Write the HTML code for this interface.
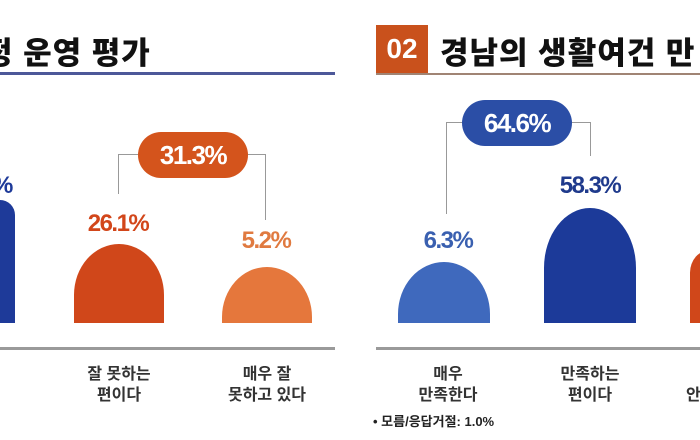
<!DOCTYPE html>
<html><head><meta charset="utf-8"><style>
body{margin:0;width:700px;height:440px;background:#fff;overflow:hidden;position:relative;font-family:"Liberation Sans","Noto Sans CJK KR",sans-serif}
.a{position:absolute}
.t{font-weight:900;font-size:31px;color:#111;letter-spacing:1px}
.bar{position:absolute;border-radius:46px 46px 0 0/52px 52px 0 0}
.pct{position:absolute;font-weight:bold;font-size:24px;text-align:center;letter-spacing:-1.5px}
.lbl{position:absolute;font-size:16px;color:#333;text-align:center;line-height:21px;width:120px;font-weight:bold}
.pill{position:absolute;border-radius:24px;color:#fff;font-weight:bold;font-size:26px;text-align:center;letter-spacing:-1.5px}
</style></head><body>
<div class="a t" style="left:-16px;top:28px">정 운영 평가</div>
<div class="a" style="left:0;top:72px;width:335px;height:3px;background:#4d5899"></div>

<div class="a" style="left:0;top:200px;width:15px;height:123px;background:#1e3a99;border-radius:0 20px 0 0"></div>
<div class="pct" style="left:-8px;top:172px;color:#1e3a99">%</div>

<div class="a" style="left:118px;top:154px;width:147px;height:1px;background:#999"></div>
<div class="a" style="left:118px;top:154px;width:1px;height:40px;background:#999"></div>
<div class="a" style="left:265px;top:154px;width:1px;height:66px;background:#999"></div>
<div class="pill" style="left:138px;top:132px;width:110px;height:46px;line-height:46px;background:#d4541c">31.3%</div>

<div class="pct" style="left:70px;top:210px;width:96px;color:#d2461a">26.1%</div>
<div class="bar" style="left:74px;top:244px;width:90px;height:79px;background:#d0471a"></div>
<div class="pct" style="left:218px;top:227px;width:96px;color:#e07a40">5.2%</div>
<div class="bar" style="left:222px;top:267px;width:90px;height:56px;background:#e5773c;border-radius:45px 45px 0 0/50px 50px 0 0"></div>
<div class="a" style="left:0;top:347px;width:335px;height:3px;background:#9a9a9a"></div>
<div class="lbl" style="left:59px;top:364px">잘 못하는<br>편이다</div>
<div class="lbl" style="left:207px;top:364px">매우 잘<br>못하고 있다</div>

<div class="a" style="left:376px;top:25px;width:52px;height:48px;background:#c9511c;color:#fff;font-weight:900;font-size:28px;text-align:center;line-height:48px">02</div>
<div class="a t" style="left:440px;top:28px;white-space:nowrap">경남의 생활여건 만</div>
<div class="a" style="left:376px;top:73px;width:324px;height:2px;background:#a08474"></div>

<div class="a" style="left:446px;top:122px;width:144px;height:1px;background:#999"></div>
<div class="a" style="left:446px;top:122px;width:1px;height:92px;background:#999"></div>
<div class="a" style="left:590px;top:122px;width:1px;height:34px;background:#999"></div>
<div class="pill" style="left:462px;top:100px;width:110px;height:46px;line-height:46px;background:#2b4ea6">64.6%</div>

<div class="pct" style="left:400px;top:227px;width:96px;color:#3a60b0">6.3%</div>
<div class="bar" style="left:398px;top:262px;width:92px;height:61px;background:#3f69bd;border-radius:46px 46px 0 0/52px 52px 0 0"></div>
<div class="pct" style="left:542px;top:172px;width:96px;color:#1f3a8c">58.3%</div>
<div class="bar" style="left:544px;top:208px;width:92px;height:115px;background:#1c3a99;border-radius:46px 46px 0 0/60px 60px 0 0"></div>
<div class="bar" style="left:690px;top:250px;width:40px;height:73px;background:#d0471a"></div>
<div class="a" style="left:376px;top:347px;width:324px;height:3px;background:#9a9a9a"></div>
<div class="lbl" style="left:388px;top:364px">매우<br>만족한다</div>
<div class="lbl" style="left:530px;top:364px">만족하는<br>편이다</div>
<div class="lbl" style="left:686px;top:385px;width:30px;text-align:left">안</div>
<div class="a" style="left:373px;top:411px;font-size:13px;color:#222;font-weight:bold">• 모름/응답거절: 1.0%</div>
</body></html>
